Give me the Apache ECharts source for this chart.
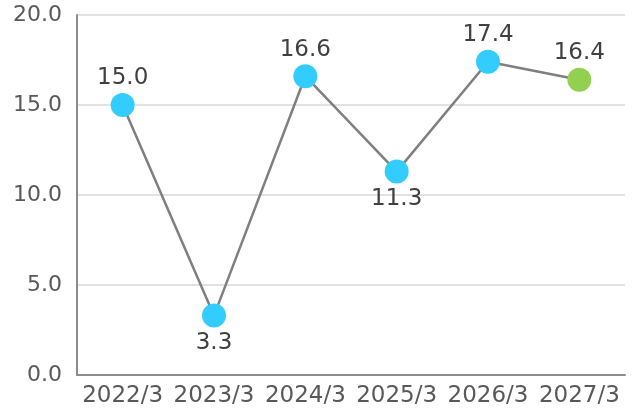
<!DOCTYPE html>
<html>
<head>
<meta charset="utf-8">
<script src="https://cdn.jsdelivr.net/npm/echarts@6/dist/echarts.min.js"></script>
<style>
html, body { margin: 0; padding: 0; background: #fff; }
#chart { width: 632px; height: 412px; }
</style>
</head>
<body>
<div id="chart"></div>
<script>
var categories = ['2022/3', '2023/3', '2024/3', '2025/3', '2026/3', '2027/3'];
var values = [15.0, 3.3, 16.6, 11.3, 17.4, 16.4];
var labelBelow = [false, true, false, true, false, false];
var pointColors = ['#33ccff', '#33ccff', '#33ccff', '#33ccff', '#33ccff', '#92d050'];

var chart = echarts.init(document.getElementById('chart'));

var seriesData = values.map(function (v, i) {
    return {
        value: v,
        itemStyle: { color: pointColors[i] },
        label: {
            position: labelBelow[i] ? 'bottom' : 'top',
            distance: labelBelow[i] ? 4 : 3
        }
    };
});

chart.setOption({
    animation: false,
    grid: { left: 77, right: 7, top: 15, bottom: 37 },
    xAxis: {
        type: 'category',
        data: categories,
        axisLine: { lineStyle: { color: '#8c8c8c', width: 2 } },
        axisTick: { show: false },
        axisLabel: {
            color: '#595959',
            fontSize: 23,
            fontFamily: 'DejaVu Sans',
            margin: 10,
            interval: 0
        }
    },
    yAxis: {
        type: 'value',
        min: 0,
        max: 20,
        interval: 5,
        axisLine: { show: true, lineStyle: { color: '#8c8c8c', width: 2 } },
        axisTick: { show: false },
        splitLine: { lineStyle: { color: '#d9d9d9', width: 1.5 } },
        axisLabel: {
            color: '#595959',
            fontSize: 22,
            fontFamily: 'DejaVu Sans',
            margin: 15,
            formatter: function (v) { return v.toFixed(1); }
        }
    },
    series: [{
        type: 'line',
        data: seriesData,
        symbol: 'circle',
        symbolSize: 24,
        lineStyle: { color: '#7f7f7f', width: 2.5 },
        label: {
            show: true,
            color: '#404040',
            fontSize: 23,
            fontFamily: 'DejaVu Sans',
            formatter: function (p) { return p.value.toFixed(1); }
        }
    }]
});
</script>
</body>
</html>
